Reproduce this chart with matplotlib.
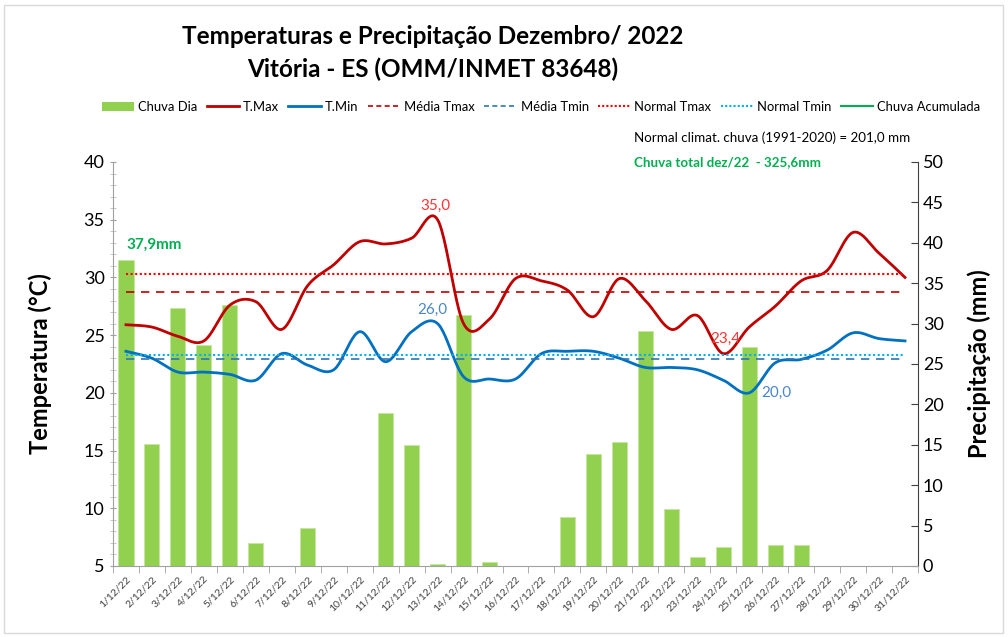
import numpy as np
import matplotlib
matplotlib.use("Agg")
import matplotlib.pyplot as plt
from matplotlib.lines import Line2D
from matplotlib.patches import Patch, Rectangle

plt.rcParams['font.family'] = ['Lato', 'DejaVu Sans']

days = [f"{d}/12/22" for d in range(1, 32)]
chuva = [37.9, 15.1, 31.9, 27.3, 32.3, 2.8, 0.0, 4.7, 0.0, 0.0,
         18.9, 15.0, 0.3, 31.1, 0.5, 0.0, 0.0, 6.1, 13.9, 15.3,
         29.1, 7.0, 1.1, 2.4, 27.1, 2.6, 2.6, 0.0, 0.0, 0.0, 0.0]
tmax = [25.9, 25.7, 24.9, 24.5, 27.6, 27.9, 25.5, 29.3, 31.1, 33.1,
        32.9, 33.4, 35.0, 26.0, 26.4, 29.9, 29.7, 28.9, 26.6, 29.9,
        28.0, 25.5, 26.7, 23.4, 25.7, 27.5, 29.7, 30.6, 33.9, 32.1, 30.0]
tmin = [23.6, 23.0, 21.8, 21.8, 21.6, 21.1, 23.4, 22.4, 22.0, 25.3,
        22.7, 25.3, 26.0, 21.4, 21.2, 21.2, 23.4, 23.6, 23.6, 23.0,
        22.2, 22.2, 22.0, 21.1, 20.0, 22.6, 22.9, 23.7, 25.2, 24.7, 24.5]
media_tmax = 28.7
media_tmin = 22.9
normal_tmax = 30.3
normal_tmin = 23.3


def smooth(y, n=24):
    y = np.asarray(y, float)
    x = np.arange(len(y), dtype=float)
    P = np.column_stack([x, y])
    out = []
    for i in range(len(P) - 1):
        p0 = P[i - 1] if i > 0 else P[i]
        p1, p2 = P[i], P[i + 1]
        p3 = P[i + 2] if i + 2 < len(P) else P[i + 1]
        c1 = p1 + (p2 - p0) / 6.0
        c2 = p2 - (p3 - p1) / 6.0
        t = np.linspace(0, 1, n, endpoint=False)[:, None]
        seg = ((1 - t) ** 3) * p1 + 3 * ((1 - t) ** 2) * t * c1 + 3 * (1 - t) * t ** 2 * c2 + t ** 3 * p2
        out.append(seg)
    out.append(P[-1:])
    out = np.vstack(out)
    return out[:, 0], out[:, 1]


W, H = 1008, 637
fig = plt.figure(figsize=(W / 100, H / 100), dpi=100)
ax = fig.add_axes([113 / W, 1 - 566 / H, 805 / W, 404 / H])
ax2 = ax.twinx()
ax.set_zorder(ax2.get_zorder() + 1)
ax.patch.set_visible(False)

x = np.arange(len(days))
c_bar = '#92D050'
c_max = '#C00000'
c_min = '#0070C0'

ax2.bar(x, chuva, width=0.58, color=c_bar, edgecolor='#C5E5A0', linewidth=0.6)
ax2.set_ylim(0, 50)
ax2.set_yticks(np.arange(0, 51, 5))
ax.set_xlim(-0.5, len(days) - 0.5)

xs, ys = smooth(tmax)
ax.plot(xs, ys, color=c_max, lw=2)
xs, ys = smooth(tmin)
ax.plot(xs, ys, color=c_min, lw=2)
ax.plot([0, len(days) - 1], [media_tmax] * 2, color=c_max, lw=1.2, ls=(0, (5, 4)))
ax.plot([0, len(days) - 1], [media_tmin] * 2, color='#2E75B6', lw=1.2, ls=(0, (5, 4)))
ax.plot([0, len(days) - 1], [normal_tmax] * 2, color='#FF0000', lw=1.5, ls=(0, (1, 1.2)))
ax.plot([0, len(days) - 1], [normal_tmin] * 2, color='#00B0F0', lw=1.5, ls=(0, (1, 1.2)))

ax.set_ylim(5, 40)
ax.set_yticks(np.arange(5, 41, 5))
ax.set_yticks(np.arange(5, 41, 1), minor=True)
ax.set_xticks(x)
ax.set_xticks(np.arange(-0.5, len(days), 1), minor=True)
ax.set_xticklabels(days, rotation=45, ha='right', rotation_mode='anchor', fontsize=7.5, color='#404040')
ax.tick_params(axis='x', which='major', length=0, pad=6)
ax.tick_params(axis='x', which='minor', length=5, color='#A0A0A0', direction='out')
ax.tick_params(axis='y', which='major', labelsize=13, length=5, color='#A0A0A0', direction='inout')
ax.tick_params(axis='y', which='minor', length=4, color='#BFBFBF', direction='inout')
ax2.tick_params(axis='y', labelsize=13, length=5, color='#404040', direction='in')
ax2.tick_params(axis='x', length=0)

for s in ['top']:
    ax.spines[s].set_visible(False)
    ax2.spines[s].set_visible(False)
ax.spines['left'].set_color('#A0A0A0')
ax.spines['bottom'].set_color('#A0A0A0')
ax2.spines['left'].set_visible(False)
ax2.spines['bottom'].set_visible(False)
ax.spines['right'].set_visible(False)
ax2.spines['right'].set_color('#404040')

ax.set_ylabel('Temperatura (°C)', fontsize=17, fontweight='bold', labelpad=23)
ax2.set_ylabel('Precipitação (mm)', fontsize=17, fontweight='bold', labelpad=17)

# annotations
ax2.text(0, chuva[0] + 1.0, '37,9mm', color='#00B050', fontsize=11, fontweight='bold', ha='left', va='bottom')
i = int(np.argmax(tmax))
ax.text(i - 0.1, tmax[i] + 0.6, '35,0', color='#FF3333', fontsize=11, ha='center', va='bottom')
i = int(np.argmax(tmin))
ax.text(i - 0.2, tmin[i] + 0.6, '26,0', color='#4A86C8', fontsize=11, ha='center', va='bottom')
i = int(np.argmin(tmax))
ax.text(i + 0.1, tmax[i] + 0.7, '23,4', color='#FF3333', fontsize=11, ha='center', va='bottom')
i = int(np.argmin(tmin))
ax.text(i + 1.05, tmin[i], '20,0', color='#4A86C8', fontsize=11, ha='center', va='center')

fig.text(433 / W, 1 - 37 / H, 'Temperaturas e Precipitação Dezembro/ 2022', fontsize=17.5, fontweight='bold',
         ha='center', va='center')
fig.text(433 / W, 1 - 69 / H, 'Vitória - ES (OMM/INMET 83648)', fontsize=17.5, fontweight='bold',
         ha='center', va='center')
fig.text(634 / W, 1 - 138 / H, 'Normal climat. chuva (1991-2020) = 201,0 mm', fontsize=9.6, ha='left', va='center')
fig.text(634 / W, 1 - 162 / H, 'Chuva total dez/22  - 325,6mm', fontsize=9.6, color='#00B050',
         fontweight='bold', ha='left', va='center')

handles = [
    Patch(facecolor=c_bar, edgecolor='none'),
    Line2D([], [], color=c_max, lw=2),
    Line2D([], [], color=c_min, lw=2),
    Line2D([], [], color=c_max, lw=1.2, ls=(0, (3, 2))),
    Line2D([], [], color='#2E75B6', lw=1.2, ls=(0, (3, 2))),
    Line2D([], [], color='#FF0000', lw=1.5, ls=(0, (1, 1))),
    Line2D([], [], color='#00B0F0', lw=1.5, ls=(0, (1, 1))),
    Line2D([], [], color='#00B050', lw=1.5),
]
labels = ['Chuva Dia', 'T.Max', 'T.Min', 'Média Tmax', 'Média Tmin', 'Normal Tmax', 'Normal Tmin',
          'Chuva Acumulada']
fig.legend(handles, labels, loc='center', bbox_to_anchor=(541 / W, 1 - 107 / H), ncol=8, frameon=False,
           fontsize=9.4, handlelength=2.5, handletextpad=0.3, columnspacing=0.7)

fig.patches.append(Rectangle((4 / W, 4 / H), 999 / W, 628 / H, transform=fig.transFigure,
                             fill=False, edgecolor='#D9D9D9', lw=1))

fig.savefig('out.png', dpi=100)
